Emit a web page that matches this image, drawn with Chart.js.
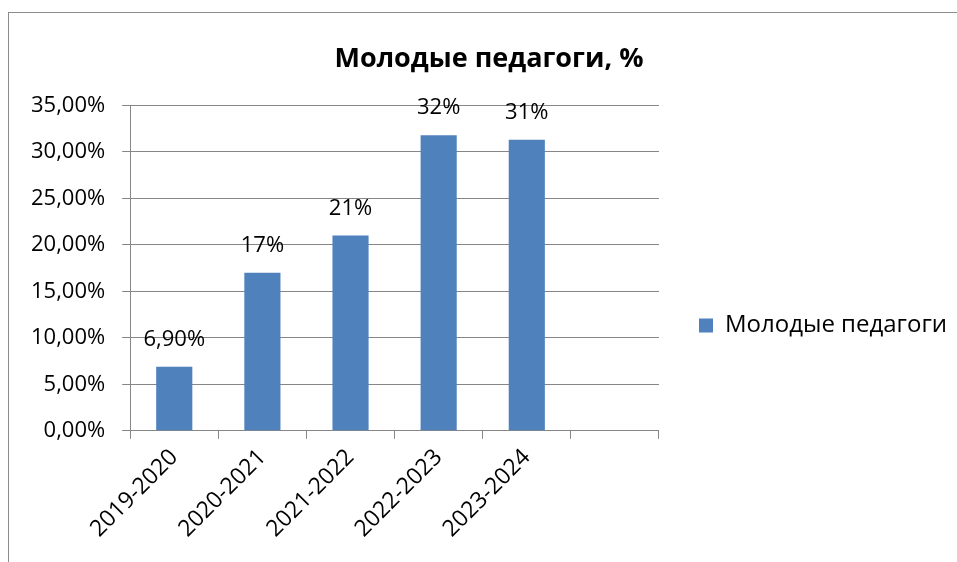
<!DOCTYPE html>
<html>
<head>
<meta charset="utf-8">
<script src="https://cdn.jsdelivr.net/npm/chart.js@4.4.0/dist/chart.umd.min.js"></script>
<style>
  html, body { margin: 0; padding: 0; background: #fff; }
  #wrap { width: 957px; height: 562px; position: relative; }
</style>
</head>
<body>
<div id="wrap"><canvas id="youngChart" width="957" height="562"></canvas></div>
<script>
const years = ['2019-2020', '2020-2021', '2021-2022', '2022-2023', '2023-2024', ''];
const young_values = [6.9, 17, 21, 31.8, 31.3, null];
const value_labels = ['6,90%', '17%', '21%', '32%', '31%', ''];
const y_ticks = [0, 5, 10, 15, 20, 25, 30, 35];

const FONT = "'Open Sans', sans-serif";
const GRID = '#868686';

// outer frame of the chart object (only top/left edges visible)
const framePlugin = {
  id: 'frame',
  beforeDraw(chart) {
    const ctx = chart.ctx;
    ctx.save();
    ctx.strokeStyle = '#8c8c8c';
    ctx.lineWidth = 1;
    ctx.strokeRect(8.5, 12.5, 1200, 1200);
    ctx.restore();
  }
};

// value labels above bars
const barLabels = {
  id: 'barLabels',
  afterDatasetsDraw(chart) {
    const ctx = chart.ctx;
    const meta = chart.getDatasetMeta(0);
    ctx.save();
    ctx.font = '22px ' + FONT;
    ctx.fillStyle = '#000';
    ctx.textAlign = 'center';
    ctx.textBaseline = 'middle';
    meta.data.forEach(function(bar, i) {
      if (young_values[i] == null) return;
      ctx.fillText(value_labels[i], bar.x, bar.y - 27);
    });
    ctx.restore();
  }
};

const young_data = {
  labels: years,
  datasets: [{
    label: 'Молодые педагоги',
    backgroundColor: '#4F81BD',
    borderColor: '#4F81BD',
    data: young_values,
    barPercentage: 0.82,
    categoryPercentage: 0.5
  }]
};

const young_config = {
  type: 'bar',
  data: young_data,
  plugins: [framePlugin, barLabels],
  options: {
    responsive: false,
    animation: false,
    layout: {
      padding: { left: 21, right: 0, top: 43, bottom: 14 }
    },
    plugins: {
      title: {
        display: true,
        text: 'Молодые педагоги, %',
        color: '#000',
        font: { family: FONT, size: 27, weight: 'bold' },
        padding: { top: 0, bottom: 30 }
      },
      legend: {
        position: 'right',
        maxWidth: 340,
        // empty title only pushes the single item down a bit
        title: {
          display: true,
          text: ' ',
          font: { size: 10 },
          padding: { top: 48, bottom: 0 }
        },
        labels: {
          color: '#000',
          font: { family: FONT, size: 24 },
          boxWidth: 14,
          boxHeight: 14,
          padding: 40
        }
      },
      tooltip: { enabled: false }
    },
    scales: {
      x: {
        grid: {
          offset: true,
          drawOnChartArea: false,
          color: GRID,
          tickLength: 8
        },
        border: { color: GRID },
        ticks: {
          color: '#000',
          font: { family: FONT, size: 23 },
          maxRotation: 45,
          minRotation: 45,
          padding: 5
        }
      },
      y: {
        min: 0,
        max: 35,
        afterBuildTicks(axis) {
          axis.ticks = y_ticks.map(v => ({ value: v }));
        },
        afterFit(axis) {
          axis.width -= 7;
        },
        grid: {
          color: GRID,
          tickLength: 8
        },
        border: { color: GRID },
        ticks: {
          color: '#000',
          font: { family: FONT, size: 22 },
          padding: 17,
          callback: v => v.toFixed(2).replace('.', ',') + '%'
        }
      }
    }
  }
};

let youngChart = new Chart(
  document.getElementById('youngChart'),
  young_config
);
</script>
</body>
</html>
